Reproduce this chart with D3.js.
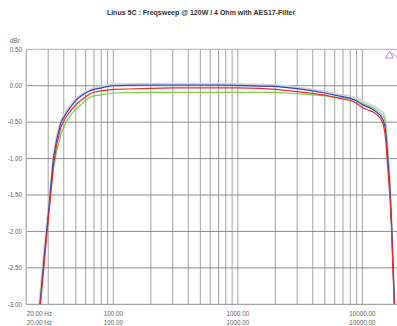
<!DOCTYPE html>
<html><head><meta charset="utf-8">
<script src="https://cdn.jsdelivr.net/npm/d3@7"></script>
<style>
html,body{margin:0;padding:0;background:#fff;}
svg{display:block;font-family:"Liberation Sans",Arial,sans-serif;}
</style></head>
<body>
<script>
const title = "Linus 5C : Freqsweep @ 120W / 4 Ohm with AES17-Filter";
const yUnit = "dBr";
const freqs = [20,22,24,26,28,30,31,33,35,38,42,46,50,55,60,65,70,80,90,100,130,200,300,500,700,1000,1500,2000,3000,4000,5000,6000,8000,9000,10000,11000,12000,13000,14000,14700,15200,15500,15700,16200,16700,17200,17600,18100,18500,20000];
const grayVals  = [-5.1,-4.1,-3.35,-2.8,-2.2,-1.7,-1.45,-0.95,-0.7,-0.46,-0.34,-0.25,-0.18,-0.12,-0.08,-0.05,-0.03,-0.01,0.01,0.02,0.025,0.03,0.03,0.03,0.03,0.025,0.015,0.01,-0.02,-0.05,-0.08,-0.11,-0.14,-0.17,-0.21,-0.24,-0.27,-0.3,-0.34,-0.37,-0.41,-0.53,-0.66,-0.98,-1.36,-1.83,-2.33,-2.88,-3.4,-5.3];
const greenVals = [-5.2,-4.2,-3.45,-2.9,-2.3,-1.8,-1.55,-1.15,-0.9,-0.66,-0.49,-0.39,-0.32,-0.26,-0.2,-0.16,-0.14,-0.125,-0.11,-0.1,-0.095,-0.09,-0.09,-0.09,-0.09,-0.09,-0.09,-0.09,-0.11,-0.125,-0.14,-0.155,-0.175,-0.2,-0.24,-0.27,-0.3,-0.33,-0.38,-0.42,-0.46,-0.6,-0.72,-1.05,-1.45,-1.95,-2.45,-3.0,-3.5,-5.4];
const blueVals  = [-5.3,-4.3,-3.5,-2.93,-2.3,-1.78,-1.5,-1.0,-0.75,-0.5,-0.37,-0.28,-0.2,-0.14,-0.1,-0.07,-0.05,-0.03,-0.01,0.0,0.005,0.01,0.01,0.01,0.01,0.005,-0.005,-0.01,-0.04,-0.07,-0.1,-0.13,-0.17,-0.21,-0.26,-0.29,-0.32,-0.36,-0.41,-0.47,-0.56,-0.68,-0.8,-1.11,-1.43,-1.9,-2.4,-3.0,-3.5,-5.5];
const redVals   = [-5.4,-4.4,-3.6,-3.0,-2.4,-1.85,-1.6,-1.1,-0.82,-0.56,-0.42,-0.33,-0.26,-0.2,-0.15,-0.11,-0.09,-0.07,-0.06,-0.05,-0.045,-0.035,-0.03,-0.03,-0.03,-0.03,-0.035,-0.05,-0.08,-0.105,-0.13,-0.16,-0.2,-0.24,-0.3,-0.33,-0.355,-0.39,-0.45,-0.52,-0.65,-0.8,-0.93,-1.25,-1.55,-2.0,-2.5,-3.05,-3.6,-5.6];
const yTicks = [0.5,0,-0.5,-1,-1.5,-2,-2.5,-3];
const yTickLabels = ["0.50","0.00","-0.50","-1.00","-1.50","-2.00","-2.50","-3.00"];
const xGrid = [30,40,50,60,70,80,90,100,200,300,400,500,600,700,800,900,1000,2000,3000,4000,5000,6000,7000,8000,9000,10000];
const xTickVals = [20,100,1000,10000];
const xTickLabels = ["20.00 Hz","100.00","1000.00","10000.00"];

const W = 397, H = 326;
const svg = d3.select("body").append("svg").attr("width", W).attr("height", H);
const x = d3.scaleLog().domain([20, 20000]).range([26.3, 399.8]);
const y = d3.scaleLinear().domain([-3, 0.5]).range([304.3, 49.3]);

svg.append("text").attr("x", 201).attr("y", 15).attr("text-anchor", "middle")
  .attr("font-size", 7).attr("font-weight", "bold").attr("fill", "#333").text(title);

// grid
const g = svg.append("g");
g.selectAll(".vg").data(xGrid).join("line")
  .attr("x1", d => x(d)).attr("x2", d => x(d)).attr("y1", y(0.5)).attr("y2", y(-3))
  .attr("stroke", "#a2a2a2").attr("stroke-width", 1);
g.selectAll(".hg").data(yTicks).join("line")
  .attr("x1", x(20)).attr("x2", W).attr("y1", d => y(d)).attr("y2", d => y(d))
  .attr("stroke", d => d === 0.5 ? "#b0b0b0" : "#8a8a8a").attr("stroke-width", 1);
g.append("line").attr("x1", x(20)).attr("x2", x(20)).attr("y1", y(0.5)).attr("y2", y(-3))
  .attr("stroke", "#b8b8b8").attr("stroke-width", 1.5);

// y labels
svg.append("text").attr("x", 10).attr("y", 43).attr("font-size", 6.3).attr("fill", "#666").text(yUnit);
svg.selectAll(".yl").data(yTicks).join("text")
  .attr("x", 22).attr("y", d => y(d) + 2.2).attr("text-anchor", "end")
  .attr("font-size", 6.3).attr("fill", "#666").text((d, i) => yTickLabels[i]);

// x labels (two rows)
[316, 324.5].forEach(yy => {
  svg.selectAll(null).data(xTickVals).join("text")
    .attr("x", (d, i) => i === 0 ? x(d) + 0.5 : x(d))
    .attr("y", yy)
    .attr("text-anchor", (d, i) => i === 0 ? "start" : "middle")
    .attr("font-size", 6.3).attr("fill", "#666").text((d, i) => xTickLabels[i]);
});

// clip
svg.append("clipPath").attr("id", "clip").append("rect")
  .attr("x", x(20)).attr("y", y(0.5)).attr("width", W - x(20)).attr("height", y(-3) - y(0.5));

const line = d3.line().x(d => x(d[0])).y(d => y(d[1]));
const series = [
  {vals: grayVals, color: "#d4d4d4", w: 1.8},
  {vals: greenVals, color: "#7dcc4a", w: 1.2},
  {vals: blueVals, color: "#2a3fd0", w: 1.2},
  {vals: redVals, color: "#ee2a2a", w: 1.2}
];
const lg = svg.append("g").attr("clip-path", "url(#clip)");
series.forEach(s => {
  lg.append("path").datum(freqs.map((f, i) => [f, s.vals[i]]))
    .attr("d", line).attr("fill", "none").attr("stroke", s.color)
    .attr("stroke-width", s.w).attr("stroke-linejoin", "round");
});

// marker triangle at top right
svg.append("path").attr("d", "M385.5,58 L389.5,51.5 L393.5,58 Z M389.5,51.5 L397,57")
  .attr("fill", "none").attr("stroke", "#a58cc8").attr("stroke-width", 0.9);
</script>
</body></html>
